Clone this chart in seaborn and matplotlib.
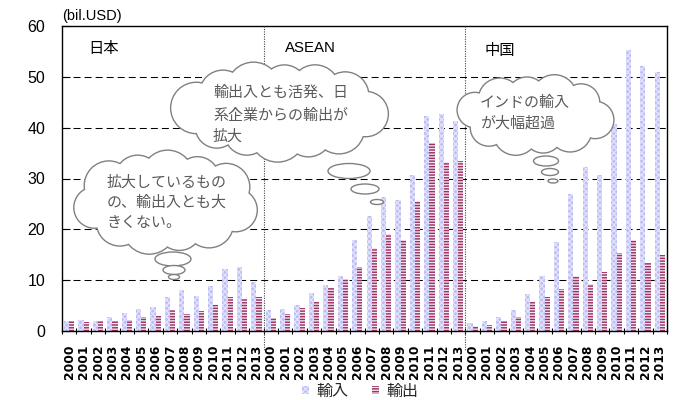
import numpy as np
import pandas as pd
import matplotlib
matplotlib.use("Agg")
import matplotlib.pyplot as plt
from matplotlib.patches import Ellipse, Patch
import seaborn as sns

# ---- data (bil. USD) ----
years = [str(y) for y in range(2000, 2014)]
regions = ["日本", "ASEAN", "中国"]
series = ["輸入", "輸出"]

japan_import = [2.0, 2.2, 2.0, 2.8, 3.6, 4.3, 4.7, 6.7, 8.1, 6.9, 8.9, 12.2, 12.6, 9.7]
japan_export = [2.0, 1.8, 2.0, 2.0, 2.2, 2.8, 3.0, 4.1, 3.4, 3.9, 5.1, 6.7, 6.3, 6.7]
asean_import = [4.1, 4.3, 5.1, 7.5, 9.1, 10.9, 18.0, 22.7, 26.3, 25.7, 30.6, 42.2, 42.6, 41.3]
asean_export = [2.6, 3.4, 4.5, 5.7, 8.5, 10.3, 12.6, 16.4, 19.1, 18.0, 25.5, 37.0, 33.2, 33.4]
china_import = [1.5, 1.9, 2.8, 4.1, 7.2, 10.8, 17.5, 27.0, 32.3, 30.7, 40.7, 55.2, 52.2, 50.9]
china_export = [0.9, 1.1, 1.9, 2.7, 5.7, 6.6, 8.2, 10.8, 9.2, 11.6, 15.4, 17.9, 13.4, 14.9]

notes = [
    ["拡大しているもの", "の、輸出入とも大", "きくない。"],
    ["輸出入とも活発、日", "系企業からの輸出が", "拡大"],
    ["インドの輸入", "が大幅超過"],
]

sns.set_theme(style="white")
plt.rcParams["font.family"] = ["Noto Sans CJK JP", "DejaVu Sans"]
plt.rcParams["hatch.linewidth"] = 0.95

rows = []
for region, imp, exp in zip(regions,
                            [japan_import, asean_import, china_import],
                            [japan_export, asean_export, china_export]):
    for y, vi, ve in zip(years, imp, exp):
        key = f"{region}-{y}"
        rows.append((key, "輸入", vi))
        rows.append((key, "輸出", ve))
df = pd.DataFrame(rows, columns=["key", "kind", "value"])
order = list(dict.fromkeys(df["key"]))

W, H = 673, 400
fig = plt.figure(figsize=(W / 100, H / 100), dpi=100)
ax = fig.add_axes([62 / W, 69 / H, 605 / W, 305 / H])

colors = {"輸入": "#bcbcf6", "輸出": "#993366"}
hatch_colors = {"輸入": "#e2e2fd", "輸出": "#f4e6ee"}
hatches = {"輸入": "xxxxxx", "輸出": "------"}

sns.barplot(data=df, x="key", y="value", hue="kind", order=order,
            hue_order=series, palette=colors, saturation=1, width=0.72,
            errorbar=None, legend=False, ax=ax, zorder=2)
for cont, s in zip(ax.containers, series):
    for bar in cont:
        bar.set_hatch(hatches[s])
        bar.set_edgecolor(hatch_colors[s])
        bar.set_linewidth(0)

# dashed horizontal gridlines
for v in range(10, 60, 10):
    ax.axhline(v, color="black", lw=0.75, ls=(0, (6.7, 3.9)), zorder=1)

# dotted separators between regions
for xsep in (13.5, 27.5):
    ax.plot([xsep, xsep], [60, -4.0], color="#444444", lw=0.8,
            ls=(0, (1, 1.2)), clip_on=False, zorder=3)

ax.set_ylim(0, 60)
ax.set_xlim(-0.5, len(order) - 0.5)
ax.set_yticks(range(0, 61, 10))
ax.set_yticklabels([str(v) for v in range(0, 61, 10)],
                   family="Liberation Sans", fontsize=11.5)
ax.tick_params(axis="y", direction="in", length=6, width=0.8, pad=12,
               left=True, color="black", labelcolor="black")

ax.set_xticks(range(len(order)))
ax.set_xticklabels(years * len(regions), rotation=90, fontsize=8.8,
                   fontweight="bold", family="DejaVu Sans", color="black")
ax.set_xticks(np.arange(-0.5, len(order), 1), minor=True)
ax.tick_params(axis="x", which="major", length=0, pad=10, bottom=True)
ax.tick_params(axis="x", which="minor", direction="inout", length=4,
               width=0.8, bottom=True, color="black")
ax.set_xlabel("")
ax.set_ylabel("")
for sp in ax.spines.values():
    sp.set_color("black")
    sp.set_linewidth(1.0)

# unit and region titles
fig.text(62 / W, 1 - 16 / H, "(bil.USD)", family="Liberation Sans",
         fontsize=10.5, ha="left", va="center", color="black")
fig.text(88 / W, 1 - 49 / H, "日本", fontsize=11, ha="left", va="center",
         color="black")
fig.text(285 / W, 1 - 48 / H, "ASEAN", family="Liberation Sans", fontsize=10.8,
         ha="left", va="center", color="black")
fig.text(485 / W, 1 - 50 / H, "中国", fontsize=11, ha="left", va="center",
         color="black")

# legend below the plot
handles = [Patch(facecolor=colors[s], edgecolor=hatch_colors[s], hatch=hatches[s],
                 linewidth=0, label=s) for s in series]
fig.legend(handles=handles, loc="center", bbox_to_anchor=(360 / W, 1 - 391 / H),
           ncol=2, frameon=False, fontsize=11.5, handlelength=0.45,
           handleheight=0.45, handletextpad=0.45, columnspacing=1.45,
           borderpad=0, borderaxespad=0)

# ---- callout clouds drawn in pixel space ----
ov = fig.add_axes([0, 0, 1, 1])
ov.set_xlim(0, W)
ov.set_ylim(H, 0)
ov.set_axis_off()
ov.set_zorder(5)

EDGE = "#808080"
TEXT = "#595959"


def draw_cloud(cx, cy, hw, hh, radii, phase=0.0, z=10):
    r0 = float(np.mean(radii))
    a, b = hw - r0, hh - r0
    t = np.linspace(0, 2 * np.pi, 1441)
    px, py = cx + a * np.cos(t), cy + b * np.sin(t)
    s = np.concatenate([[0], np.cumsum(np.hypot(np.diff(px), np.diff(py)))])
    n = len(radii)
    targets = ((np.arange(n) + phase) / n) * s[-1]
    idx = np.clip(np.searchsorted(s, targets), 0, len(px) - 1)
    for i, r in zip(idx, radii):
        ov.add_patch(Ellipse((px[i], py[i]), 2 * r, 2 * r, facecolor="none",
                             edgecolor=EDGE, lw=2.0, zorder=z))
    for i, r in zip(idx, radii):
        ov.add_patch(Ellipse((px[i], py[i]), 2 * r, 2 * r, facecolor="white",
                             edgecolor="none", zorder=z + 0.1))
    ov.add_patch(Ellipse((cx, cy), 2 * a + 4, 2 * b + 4, facecolor="white",
                         edgecolor="none", zorder=z + 0.1))


def draw_bubbles(items, z=10):
    for (x, y, w, h) in items:
        ov.add_patch(Ellipse((x, y), w, h, facecolor="white", edgecolor=EDGE,
                             lw=1.0, zorder=z + 0.2))


def draw_note(x, ys, lines, z=10):
    for y, line in zip(ys, lines):
        ov.text(x, y, line, fontsize=10.8, color=TEXT, ha="left", va="center",
                zorder=z + 0.3)


# Japan
draw_cloud(166, 202, 96, 49, [21, 24, 22, 26, 23, 20, 24, 22, 25, 21, 23], 0.3)
draw_bubbles([(173, 259, 36, 14), (174, 270, 22, 9), (174, 277, 11, 5)])
draw_note(107, [183, 203, 223], notes[0])

# ASEAN
draw_cloud(281, 111, 109, 47, [22, 25, 23, 27, 22, 21, 25, 23, 26, 22, 24, 23], 0.1)
draw_bubbles([(349, 171, 42, 15), (365, 189, 28, 10), (377, 202, 13, 5)])
draw_note(213, [93, 116, 137], notes[1])

# China
draw_cloud(535, 115, 82, 38, [18, 21, 19, 22, 18, 17, 21, 19, 22, 18], 0.2)
draw_bubbles([(546, 161, 25, 10), (550, 172, 17, 7), (553, 181, 10, 4)])
draw_note(480, [103, 123], notes[2])

fig.savefig("out.png", dpi=100)
